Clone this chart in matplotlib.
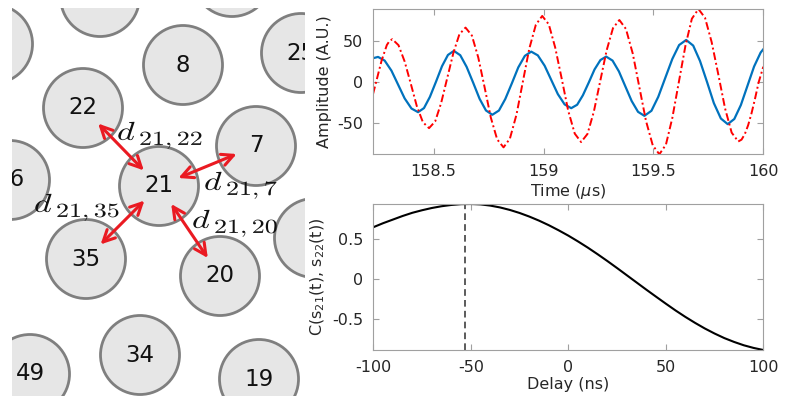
import numpy as np
import matplotlib
matplotlib.use('Agg')
import matplotlib.pyplot as plt
from matplotlib.patches import Circle, PathPatch
from matplotlib.textpath import TextPath
from matplotlib.font_manager import FontProperties
from matplotlib.transforms import Affine2D

plt.rcParams['font.family'] = 'DejaVu Sans'
plt.rcParams['axes.unicode_minus'] = False

# ---- sensor map (positions in image pixels) ----
node_labels = ['', '', '', '8', '25', '22', '7', '16', '21', '35', '20', '', '34', '49', '19']
node_x = [-7, 100, 232, 183, 301, 83, 256, 10, 159, 86, 220, 314, 140, 30, 259]
node_y = [44, -3, -23, 65, 53, 108, 146, 180, 186, 259, 276, 238, 355, 374, 379]
node_radius = 39.5

# pairs with a distance arrow from the centre sensor
center_node = '21'
neighbours = ['22', '7', '35', '20']

# ---- signals (time in us, amplitude in A.U.) ----
s21_t = [158.224, 158.247,
         158.277, 158.308, 158.338, 158.368, 158.399, 158.429,
         158.456, 158.483, 158.511, 158.538, 158.565, 158.592,
         158.621, 158.650, 158.680, 158.709, 158.738, 158.767,
         158.797, 158.826, 158.856, 158.885, 158.915, 158.944,
         158.974, 159.005, 159.035, 159.065, 159.096, 159.126,
         159.153, 159.179, 159.206, 159.232, 159.259, 159.285,
         159.314, 159.343, 159.372, 159.401, 159.430, 159.459,
         159.491, 159.522, 159.554, 159.586, 159.617, 159.649,
         159.681, 159.712, 159.744, 159.775, 159.807, 159.838,
         159.868, 159.898, 159.928, 159.958, 159.988, 160.000]
s21_a = [29.4, 31.0,
         26.5, 14.1, -2.9, -19.9, -32.3, -36.8,
         -31.8, -18.0, 0.8, 19.6, 33.4, 38.4,
         33.1, 18.8, -0.8, -20.4, -34.7, -40.0,
         -34.8, -20.6, -1.3, 18.1, 32.3, 37.5,
         32.9, 20.2, 2.8, -14.6, -27.3, -31.9,
         -27.7, -16.1, -0.3, 15.6, 27.2, 31.4,
         26.5, 13.2, -5.0, -23.1, -36.4, -41.3,
         -35.1, -18.0, 5.3, 28.5, 45.6, 51.8,
         44.9, 26.0, 0.2, -25.7, -44.6, -51.5,
         -45.2, -28.0, -4.4, 19.2, 36.4, 40.4]

s22_t = [158.224, 158.238, 158.263, 158.287, 158.300, 158.312,
         158.340, 158.368, 158.396, 158.423, 158.451, 158.479,
         158.507, 158.534, 158.562, 158.590, 158.617, 158.645,
         158.674, 158.703, 158.732, 158.760, 158.789, 158.818,
         158.847, 158.877, 158.906, 158.935, 158.965, 158.994,
         159.024, 159.053, 159.083, 159.112, 159.142, 159.171,
         159.200, 159.229, 159.258, 159.287, 159.316, 159.345,
         159.375, 159.406, 159.436, 159.466, 159.497, 159.527,
         159.557, 159.586, 159.616, 159.646, 159.675, 159.705,
         159.735, 159.765, 159.796, 159.826, 159.856, 159.886,
         159.901, 159.916, 159.931, 159.946, 159.962, 159.979, 160.000]
s22_a = [-14.7, 0.0, 26.4, 45.6, 50.9, 52.7,
         45.4, 25.4, -1.9, -29.1, -49.1, -56.4,
         -48.1, -25.6, 5.3, 36.2, 58.7, 67.0,
         57.2, 30.3, -6.5, -43.3, -70.2, -80.0,
         -69.2, -39.7, 0.7, 41.0, 70.5, 81.3,
         70.9, 42.6, 3.9, -34.8, -63.1, -73.5,
         -63.5, -36.1, 1.4, 38.9, 66.3, 76.3,
         65.3, 35.1, -6.1, -47.3, -77.5, -88.5,
         -76.6, -43.9, 0.6, 45.2, 77.9, 89.8,
         78.9, 49.2, 8.5, -32.2, -61.9, -72.8,
         -70.5, -63.7, -52.8, -38.6, -20.7, 0.0, 19.0]

# ---- cross-correlation vs delay ----
delay_ns = [-100, -95, -90, -85, -80, -75, -70, -65, -60, -55, -50,
            -45, -40, -35, -30, -25, -20, -15, -10, -5, 0,
            5, 10, 15, 20, 25, 30, 35, 40, 45, 50,
            55, 60, 65, 70, 75, 80, 85, 90, 95, 100]
corr = [0.650, 0.700, 0.745, 0.790, 0.830, 0.862, 0.890, 0.912, 0.928, 0.938, 0.940,
        0.935, 0.920, 0.897, 0.866, 0.828, 0.783, 0.732, 0.675, 0.612, 0.545,
        0.472, 0.395, 0.313, 0.228, 0.140, 0.050, -0.040, -0.130, -0.218, -0.305,
        -0.390, -0.470, -0.545, -0.615, -0.678, -0.735, -0.783, -0.825, -0.858, -0.884]
peak_delay = -53

# ---- figure ----
W, H = 785, 403
fig = plt.figure(figsize=(W / 100, H / 100), dpi=100)


def box(l, t, r, b):
    return [l / W, 1 - b / H, (r - l) / W, (b - t) / H]


# left: sensor map
ax_map = fig.add_axes(box(12, 8, 305, 396))
ax_map.set_xlim(12, 305)
ax_map.set_ylim(396, 8)
ax_map.axis('off')
ax_map.patch.set_visible(False)

pos = {lab: (x, y) for lab, x, y in zip(node_labels, node_x, node_y)}
for lab, x, y in zip(node_labels, node_x, node_y):
    ax_map.add_patch(Circle((x, y), node_radius, fc='#e6e6e6', ec='#7f7f7f', lw=2))
    if lab:
        ax_map.text(x, y, lab, ha='center', va='center', fontsize=16.5,
                    color='#111111', clip_on=True)

# distance arrows and d_{i,j} labels (d and a wide subscript, drawn as paths)
label_anchor = {'22': (117, 140), '7': (204, 190), '35': (34, 212), '20': (192, 228)}
cx, cy = pos[center_node]
fp = FontProperties(family='DejaVu Serif', math_fontfamily='cm')
stretch = 1.3
for nb in neighbours:
    nx, ny = pos[nb]
    p0 = (cx + 0.2 * (nx - cx), cy + 0.2 * (ny - cy))
    p1 = (cx + 0.8 * (nx - cx), cy + 0.8 * (ny - cy))
    ax_map.annotate('', xy=p1, xytext=p0,
                    arrowprops=dict(arrowstyle='<->,head_length=0.7,head_width=0.35',
                                    color='#ea1a22', lw=2.2, shrinkA=0, shrinkB=0,
                                    mutation_scale=12))
    lx, ly = label_anchor[nb]
    d_path = TextPath((0, 0), r'$d$', size=1, prop=fp)
    d_path = Affine2D().scale(26 * stretch, -26).translate(lx, ly).transform_path(d_path)
    sub_path = TextPath((0, 0), r'$%s,%s$' % (center_node, nb), size=1, prop=fp)
    sub_path = Affine2D().scale(20 * stretch, -20).translate(lx + 22, ly + 5).transform_path(sub_path)
    for p in (d_path, sub_path):
        ax_map.add_patch(PathPatch(p, fc='#111111', ec='none'))

# right panels style
frame = '#a0a0a0'
txt = '#262626'


def style(ax):
    for s in ax.spines.values():
        s.set_color(frame)
        s.set_linewidth(0.8)
    ax.tick_params(direction='in', length=4, width=0.8, color=frame,
                   top=True, right=True, labelsize=11.5, labelcolor=txt, pad=7)


ax_sig = fig.add_axes(box(373, 9, 763.3, 154.3))
ax_sig.plot(s21_t, s21_a, color='#0072bd', lw=1.6)
ax_sig.plot(s22_t, s22_a, color='#ff0000', lw=1.4, linestyle=(0, (4, 1.5, 1, 1.5)))
ax_sig.set_xlim(min(s21_t), max(s21_t))
ax_sig.set_ylim(min(min(s21_a), min(s22_a)), max(max(s21_a), max(s22_a)))
ax_sig.set_xticks([158.5, 159, 159.5, 160], ['158.5', '159', '159.5', '160'])
ax_sig.set_yticks([-50, 0, 50], ['-50', '0', '50'])
ax_sig.set_xlabel(r'Time ($\mu$s)', fontsize=11.5, color=txt, labelpad=2)
ax_sig.set_ylabel('Amplitude (A.U.)', fontsize=11.5, color=txt, labelpad=4)
style(ax_sig)

ax_cor = fig.add_axes(box(373.3, 204, 763.3, 350))
ax_cor.plot(delay_ns, corr, color='black', lw=1.5)
ax_cor.axvline(peak_delay, color='#404040', lw=1.2, linestyle=(0, (4, 2.5)))
ax_cor.set_xlim(-100, 100)
ax_cor.set_ylim(min(corr), max(corr))
ax_cor.set_xticks([-100, -50, 0, 50, 100], ['-100', '-50', '0', '50', '100'])
ax_cor.set_yticks([-0.5, 0, 0.5], ['-0.5', '0', '0.5'])
ax_cor.set_xlabel('Delay (ns)', fontsize=11.5, color=txt, labelpad=2)
ax_cor.set_ylabel(r'C(s$_{21}$(t), s$_{22}$(t))', fontsize=11.5, color=txt, labelpad=4)
style(ax_cor)

fig.savefig('out.png', dpi=100)
